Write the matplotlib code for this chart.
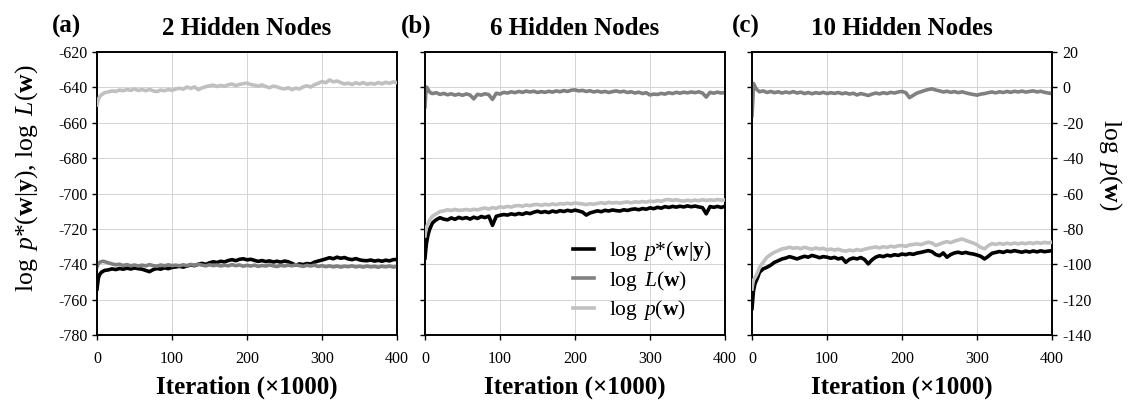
import matplotlib
matplotlib.use("Agg")
import matplotlib.pyplot as plt

plt.rcParams['font.family'] = ['Liberation Serif', 'DejaVu Serif']
plt.rcParams['mathtext.fontset'] = 'custom'
plt.rcParams['mathtext.rm'] = 'Liberation Serif'
plt.rcParams['mathtext.it'] = 'Liberation Serif:italic'
plt.rcParams['mathtext.bf'] = 'Liberation Serif:bold'
plt.rcParams['axes.unicode_minus'] = False

# ---------------- data ----------------
iterations = [0, 1, 2, 4, 6, 8] + list(range(10, 401, 5))  # x1000

panel_letters = ["(a)", "(b)", "(c)"]
panel_titles = ["2 Hidden Nodes", "6 Hidden Nodes", "10 Hidden Nodes"]
xticks = [0, 100, 200, 300, 400]
left_yticks = [-780, -760, -740, -720, -700, -680, -660, -640, -620]
right_yticks = [-140, -120, -100, -80, -60, -40, -20, 0, 20]

# panel (a) : 2 hidden nodes
a_post = [-754.0, -750.5, -747.5, -745.5, -744.5, -744.0,
          -743.5, -743.2, -742.6, -743.0, -742.4, -742.8, -742.2, -742.7, -742.1, -742.5,
          -742.8, -743.5, -744.2, -743.0, -742.4, -742.8, -742.0, -742.5, -741.8, -741.5,
          -741.2, -741.6, -741.0, -740.4, -740.8, -740.0, -739.5, -740.1, -739.2, -738.6,
          -739.0, -738.3, -738.7, -737.9, -737.4, -738.0, -737.2, -736.9, -737.5, -737.2,
          -737.8, -738.4, -737.9, -738.5, -738.1, -738.7, -738.3, -738.8, -738.2, -738.6,
          -739.5, -740.5, -739.8, -740.2, -739.6, -739.9, -738.8, -738.2, -737.6, -737.0,
          -736.3, -736.9, -736.0, -736.6, -736.2, -737.0, -737.4, -736.8, -737.5, -737.9,
          -738.0, -737.6, -738.2, -737.8, -738.3, -737.7, -738.1, -737.4, -737.3]
a_like = [-741.5, -740.5, -739.5, -738.8, -738.5, -738.3,
          -738.5, -739.2, -739.8, -740.3, -740.0, -740.7, -740.2, -740.9, -740.4, -741.0,
          -740.5, -740.9, -740.2, -740.8, -741.1, -740.4, -740.9, -740.3, -740.8, -740.5,
          -740.9, -740.3, -740.8, -740.1, -740.6, -740.0, -740.5, -740.9, -740.3, -740.8,
          -740.4, -741.0, -740.5, -740.9, -740.2, -740.8, -740.4, -741.1, -740.6, -741.0,
          -740.5, -741.2, -740.7, -741.0, -740.4, -740.9, -741.3, -740.6, -741.0, -740.5,
          -740.9, -740.3, -740.8, -741.2, -740.6, -741.0, -740.5, -741.3, -740.8, -741.4,
          -740.9, -741.5, -741.0, -741.6, -741.1, -741.4, -740.9, -741.5, -741.1, -741.6,
          -741.0, -741.5, -741.2, -741.7, -741.1, -741.5, -741.0, -741.6, -741.2]
a_prior = [-10.0, -8.0, -6.5, -5.0, -4.2, -3.6,
           -3.0, -2.6, -2.0, -2.3, -1.5, -1.9, -1.2, -1.7, -0.9, -1.8,
           -1.2, -1.9, -1.1, -2.0, -2.4, -1.5, -1.9, -1.2, -1.7, -0.9,
           -0.5, -1.0, 0.2, -0.6, 0.3, -1.3, -0.3, 0.4, 0.9, 1.3,
           0.5, 1.1, 0.6, 1.5, 1.9, 1.0, 1.7, 2.1, 2.4, 1.6,
           1.2, 0.7, 1.4, 0.5, -0.2, 0.7, 0.3, -0.5, -0.9, -0.2,
           -1.3, -0.4, -0.9, 0.3, 0.9, 0.2, 1.5, 2.3, 3.3, 2.6,
           4.2, 3.1, 3.6, 2.7, 1.9, 2.4, 1.6, 2.6, 1.9, 2.7,
           1.7, 2.3, 1.8, 2.7, 2.0, 2.9, 2.3, 3.1, 2.7]

# panel (b) : 6 hidden nodes
b_post = [-736.5, -732.0, -728.0, -723.5, -720.5, -718.5,
          -716.6, -714.8, -713.7, -714.5, -714.9, -713.8, -714.6, -713.5, -714.2, -713.6,
          -714.5, -713.4, -714.1, -713.0, -713.6, -712.8, -718.0, -712.9, -712.3, -711.9,
          -712.2, -711.5, -712.0, -711.3, -711.8, -710.9, -711.4, -710.6, -710.0, -710.7,
          -710.2, -710.8, -709.9, -710.5, -709.7, -710.2, -709.5, -710.0, -709.4, -709.9,
          -710.5, -712.2, -711.0, -710.4, -709.8, -710.3, -709.5, -709.9, -709.3, -709.7,
          -709.9, -709.2, -709.6, -709.0, -708.7, -709.2, -708.5, -708.9, -708.1, -708.6,
          -707.8, -708.3, -707.4, -707.9, -707.3, -707.7, -707.2, -707.6, -707.0, -707.5,
          -707.1, -707.6, -708.0, -711.5, -707.4, -707.8, -707.3, -707.9, -707.2]
b_like = [-651.0, -644.0, -639.8, -641.0, -642.5, -643.2,
          -643.5, -643.0, -644.0, -643.4, -644.2, -643.6, -644.4, -643.8, -644.5, -643.7,
          -644.3, -646.5, -643.9, -644.4, -643.6, -644.1, -646.8, -643.3, -643.8, -642.8,
          -643.2, -642.5, -643.0, -642.3, -642.8, -642.1, -642.6, -642.2, -642.9, -642.4,
          -642.8, -642.2, -642.7, -642.0, -642.5, -641.8, -642.3, -641.6, -641.4, -642.0,
          -641.7, -642.3, -641.9, -642.6, -642.1, -642.7, -642.3, -642.9, -642.4, -642.0,
          -642.6, -642.2, -642.9, -642.5, -643.2, -642.7, -643.5, -643.0, -644.3, -643.8,
          -644.0, -643.4, -643.8, -643.0, -643.5, -642.8, -643.3, -642.7, -643.1, -642.6,
          -643.0, -642.5, -643.2, -645.5, -642.8, -643.3, -642.7, -643.2, -642.9]
b_prior = [-84.0, -81.0, -79.0, -77.0, -75.0, -74.0,
           -72.8, -71.5, -70.2, -69.8, -69.2, -69.6, -69.0, -69.5, -69.4, -69.0,
           -69.5, -68.9, -69.3, -68.6, -68.2, -68.8, -68.0, -68.4, -67.5, -67.9,
           -67.3, -67.7, -67.0, -66.8, -67.2, -66.5, -66.9, -66.3, -66.2, -66.7,
           -66.1, -66.5, -65.9, -66.3, -65.7, -66.0, -65.5, -65.9, -65.3, -65.7,
           -65.9, -66.3, -65.8, -66.1, -65.6, -65.2, -65.7, -65.0, -65.4, -65.1,
           -65.5, -65.0, -64.8, -65.3, -64.7, -65.0, -64.5, -64.9, -64.3, -64.6,
           -64.0, -64.4, -63.6, -63.4, -63.9, -63.5, -64.0, -64.3, -63.8, -64.2,
           -63.7, -64.1, -63.5, -64.0, -63.6, -63.9, -63.4, -63.8, -63.6]

# panel (c) : 10 hidden nodes
c_post = [-765.0, -760.0, -755.0, -751.0, -749.0, -747.0,
          -744.5, -742.6, -741.7, -740.5, -738.9, -738.0, -737.0, -736.5, -735.7, -736.3,
          -737.0, -736.2, -735.5, -736.0, -735.0, -735.6, -736.3, -735.7, -736.0, -736.6,
          -736.1, -737.0, -736.4, -738.9, -737.2, -736.5, -737.0, -736.2, -737.3, -739.8,
          -737.5, -736.0, -735.2, -735.7, -734.9, -735.3, -734.6, -735.0, -734.2, -734.6,
          -734.0, -734.4, -733.7, -733.3, -732.8, -732.3, -732.9, -734.5, -735.2, -733.6,
          -736.0, -734.5, -733.6, -733.2, -733.8, -733.3, -733.9, -734.2, -734.8, -735.5,
          -737.0, -735.5, -733.8, -733.3, -732.8, -733.3, -732.5, -732.9, -732.3, -732.8,
          -733.2, -732.6, -733.1, -732.5, -733.0, -732.4, -732.9, -732.6, -732.3]
c_like = [-656.0, -648.0, -637.8, -639.5, -641.0, -641.8,
          -642.5, -642.0, -642.9, -642.3, -643.0, -642.5, -643.2, -642.6, -643.1, -642.4,
          -643.2, -642.7, -643.5, -642.9, -643.6, -643.0, -643.4, -642.8, -643.5, -643.0,
          -643.4, -642.9, -643.6, -643.1, -643.8, -643.3, -644.3, -643.5, -644.0, -644.6,
          -643.8, -643.2, -643.7, -643.0, -643.5, -642.8, -643.2, -642.6, -642.3, -643.0,
          -645.8, -644.5, -643.2, -642.5, -641.8, -641.2, -640.8, -641.5, -642.0, -642.6,
          -642.2, -642.8, -642.4, -643.0, -642.5, -643.1, -643.6, -644.0, -644.4, -643.8,
          -643.5, -643.0, -642.6, -643.1, -642.5, -642.9, -642.3, -642.8, -642.2, -642.6,
          -642.1, -642.7, -642.3, -642.0, -642.6, -642.2, -642.8, -643.2, -643.5]
c_prior = [-114.0, -111.0, -109.0, -107.5, -106.0, -104.0,
           -101.7, -98.9, -96.0, -94.5, -93.2, -92.3, -91.3, -91.0, -90.4, -91.0,
           -90.6, -91.2, -90.4, -91.0, -91.5, -90.8, -91.4, -91.0, -91.9, -91.4,
           -92.0, -91.5, -92.2, -92.6, -92.0, -92.4, -91.7, -92.2, -91.5, -91.0,
           -90.6, -90.2, -90.8, -90.1, -90.5, -89.8, -90.2, -89.6, -89.4, -89.9,
           -89.1, -88.8, -88.5, -88.9, -88.2, -87.5, -88.0, -89.4, -88.6, -87.8,
           -87.2, -87.8, -86.9, -86.3, -85.7, -86.5, -87.3, -88.0, -89.0, -90.5,
           -91.3, -89.5, -88.3, -88.8, -88.2, -88.7, -88.1, -88.6, -88.0, -88.5,
           -88.0, -88.4, -87.8, -88.3, -87.7, -88.2, -87.6, -88.0, -87.5]

posts = [a_post, b_post, c_post]
likes = [a_like, b_like, c_like]
priors = [a_prior, b_prior, c_prior]

labels = [r'$\log\ p$' + '*' + r'$(\mathbf{w}|\mathbf{y})$',
          r'$\log\ L(\mathbf{w})$', r'$\log\ p(\mathbf{w})$']
colors = ['#000000', '#808080', '#c0c0c0']

# ---------------- figure ----------------
W, H = 1141, 401
fig = plt.figure(figsize=(W / 100, H / 100), dpi=100)

lefts = [97, 425, 752]
ax_w = 300
top_px, bot_px = 52, 335
lw = 2.6
tick_fs = 11.5

def xs(series):
    return iterations[:len(series)]

axes = []
for i in range(3):
    ax = fig.add_axes([lefts[i] / W, 1 - bot_px / H, ax_w / W, (bot_px - top_px) / H])
    axes.append(ax)
    ax.set_xlim(0, 400)
    ax.set_ylim(-780, -620)
    ax.set_xticks(xticks)
    ax.set_yticks(left_yticks)
    ax.grid(True, color='#d4d4d4', linewidth=0.7)
    ax.set_axisbelow(True)
    for sp in ax.spines.values():
        sp.set_linewidth(1.2)
    ax.tick_params(direction='out', length=3.5, width=1.0, labelsize=tick_fs,
                   right=True, top=False, pad=3)
    ax.tick_params(axis='x', pad=8)
    if i > 0:
        ax.tick_params(labelleft=False)

    l1, = ax.plot(xs(posts[i]), posts[i], color=colors[0], lw=lw, label=labels[0], zorder=3)
    l2, = ax.plot(xs(likes[i]), likes[i], color=colors[1], lw=lw, label=labels[1], zorder=4)

    tw = ax.twinx()
    tw.set_ylim(-140, 20)
    tw.set_yticks(right_yticks)
    for sp in tw.spines.values():
        sp.set_linewidth(1.2)
    l3, = tw.plot(xs(priors[i]), priors[i], color=colors[2], lw=lw, label=labels[2], zorder=3)
    if i < 2:
        tw.tick_params(right=False, labelright=False)
    else:
        tw.tick_params(direction='out', length=3.5, width=1.0, labelsize=tick_fs, pad=4)

    ax.set_xlabel('Iteration (×1000)', fontsize=18, fontweight='bold', labelpad=6)

    cx = (lefts[i] + ax_w / 2) / W
    fig.text(cx, 1 - 35 / H, panel_titles[i], ha='center', va='baseline',
             fontsize=18, fontweight='bold')
    if i == 1:
        leg = ax.legend(handles=[l1, l2, l3], loc='lower right', frameon=False, fontsize=15.5,
                        handlelength=1.0, handletextpad=0.7, labelspacing=0.25,
                        borderaxespad=0.2)
        for h in leg.legend_handles:
            h.set_linewidth(2.6)

letter_x = [52, 401, 732]
for i in range(3):
    fig.text(letter_x[i] / W, 1 - 33 / H, panel_letters[i], ha='left', va='baseline',
             fontsize=18, fontweight='bold')

fig.text(27 / W, 1 - 178 / H,
         r'$\log\ p$' + '*' + r'$(\mathbf{w}|\mathbf{y})$, $\log\ L(\mathbf{w})$',
         rotation=90, ha='center', va='center', fontsize=18.5)
fig.text(1110 / W, 1 - 165 / H, r'$\log\ p(\mathbf{w})$',
         rotation=270, ha='center', va='center', fontsize=18.5)

fig.savefig('out.png', dpi=100)
